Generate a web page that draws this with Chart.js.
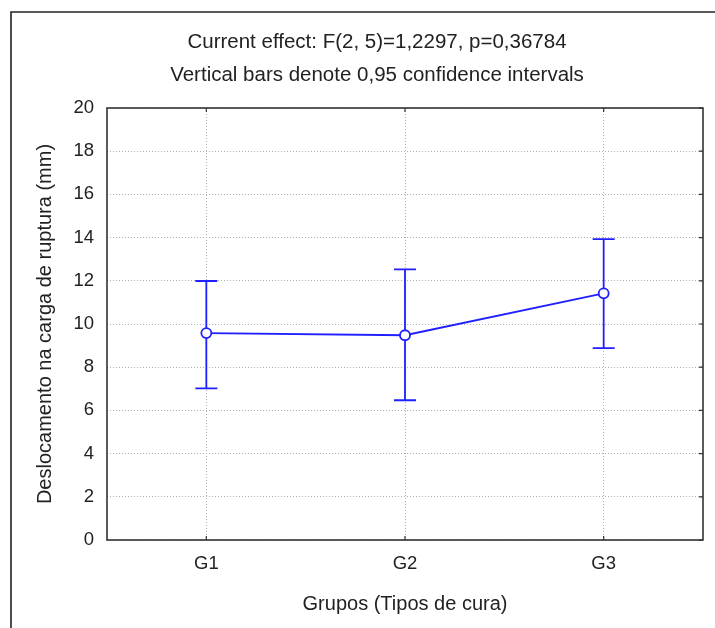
<!DOCTYPE html>
<html>
<head>
<meta charset="utf-8">
<script src="https://cdn.jsdelivr.net/npm/chart.js@4/dist/chart.umd.min.js"></script>
<style>
html,body{margin:0;padding:0;background:#fff;}
#wrap{width:715px;height:628px;position:relative;}
</style>
</head>
<body>
<div id="wrap"><canvas id="c" width="715" height="628"></canvas></div>
<script>
const categories = ['G1', 'G2', 'G3'];
const means = [9.58, 9.48, 11.42];
const lowerCI = [7.02, 6.47, 8.88];
const upperCI = [11.99, 12.53, 13.93];
const yMin = 0, yMax = 20, yStep = 2;
const titleLines = ['Current effect: F(2, 5)=1,2297, p=0,36784', 'Vertical bars denote 0,95 confidence intervals'];
const xTitle = 'Grupos (Tipos de cura)';
const yTitle = 'Deslocamento na carga de ruptura (mm)';

const BLUE = '#1f1fff';
const FONT = '"Liberation Sans", Arial, sans-serif';

const decor = {
  id: 'decor',
  beforeDatasetsDraw(chart) {
    const ctx = chart.ctx;
    const xs = chart.scales.x, ys = chart.scales.y;
    ctx.save();
    ctx.strokeStyle = BLUE;
    ctx.lineWidth = 1.8;
    const cap = 11;
    for (let i = 0; i < categories.length; i++) {
      const x = xs.getPixelForValue(i);
      const yl = ys.getPixelForValue(lowerCI[i]);
      const yu = ys.getPixelForValue(upperCI[i]);
      ctx.beginPath();
      ctx.moveTo(x, yl); ctx.lineTo(x, yu);
      ctx.moveTo(x - cap, yu); ctx.lineTo(x + cap, yu);
      ctx.moveTo(x - cap, yl); ctx.lineTo(x + cap, yl);
      ctx.stroke();
    }
    ctx.restore();
  },
  afterDraw(chart) {
    const ctx = chart.ctx;
    const a = chart.chartArea;
    const xs = chart.scales.x, ys = chart.scales.y;
    ctx.save();
    ctx.strokeStyle = '#333';
    ctx.lineWidth = 1.6;
    ctx.strokeRect(a.left, a.top, a.right - a.left, a.bottom - a.top);
    ctx.lineWidth = 1.2;
    ctx.beginPath();
    for (let v = yMin; v <= yMax; v += yStep) {
      const y = ys.getPixelForValue(v);
      ctx.moveTo(a.right - 4, y); ctx.lineTo(a.right, y);
    }
    for (let i = 0; i < categories.length; i++) {
      const x = xs.getPixelForValue(i);
      ctx.moveTo(x, a.bottom); ctx.lineTo(x, a.bottom - 4);
      ctx.moveTo(x, a.top); ctx.lineTo(x, a.top + 4);
    }
    ctx.stroke();
    ctx.lineWidth = 1.6;
    ctx.strokeStyle = '#222';
    ctx.beginPath();
    ctx.moveTo(11, 640); ctx.lineTo(11, 12); ctx.lineTo(720, 12);
    ctx.stroke();
    ctx.fillStyle = '#222';
    ctx.textAlign = 'center';
    ctx.textBaseline = 'middle';
    ctx.font = '20.5px ' + FONT;
    ctx.fillText(titleLines[0], 377, 42);
    ctx.fillText(titleLines[1], 377, 75);
    ctx.font = '20px ' + FONT;
    ctx.fillText(xTitle, (a.left + a.right) / 2, 604);
    ctx.translate(45, (a.top + a.bottom) / 2);
    ctx.rotate(-Math.PI / 2);
    ctx.fillText(yTitle, 0, 0);
    ctx.restore();
  }
};

new Chart(document.getElementById('c'), {
  type: 'line',
  data: {
    labels: categories,
    datasets: [{
      data: means,
      borderColor: BLUE,
      borderWidth: 1.8,
      pointRadius: 5,
      pointHoverRadius: 5,
      pointBackgroundColor: '#fff',
      pointBorderColor: BLUE,
      pointBorderWidth: 1.8,
      tension: 0,
      fill: false
    }]
  },
  options: {
    responsive: false,
    animation: false,
    events: [],
    layout: { padding: { left: 0, top: 108, right: 12, bottom: 0 } },
    plugins: { legend: { display: false }, tooltip: { enabled: false }, title: { display: false } },
    scales: {
      x: {
        type: 'category',
        offset: true,
        grid: { color: '#b0b0b0', lineWidth: 1, drawTicks: false, tickLength: 0, offset: false },
        border: { display: false, dash: [1, 2] },
        ticks: { color: '#222', font: { family: FONT, size: 18.5 }, padding: 13 },
        afterFit(s) { s.height = 88; }
      },
      y: {
        min: yMin, max: yMax,
        grid: { color: '#b0b0b0', lineWidth: 1, drawTicks: false, tickLength: 0 },
        border: { display: false, dash: [1, 2] },
        ticks: { stepSize: yStep, color: '#222', font: { family: FONT, size: 18.5 }, padding: 13 },
        afterFit(s) { s.width = 107; }
      }
    }
  },
  plugins: [decor]
});
</script>
</body>
</html>
